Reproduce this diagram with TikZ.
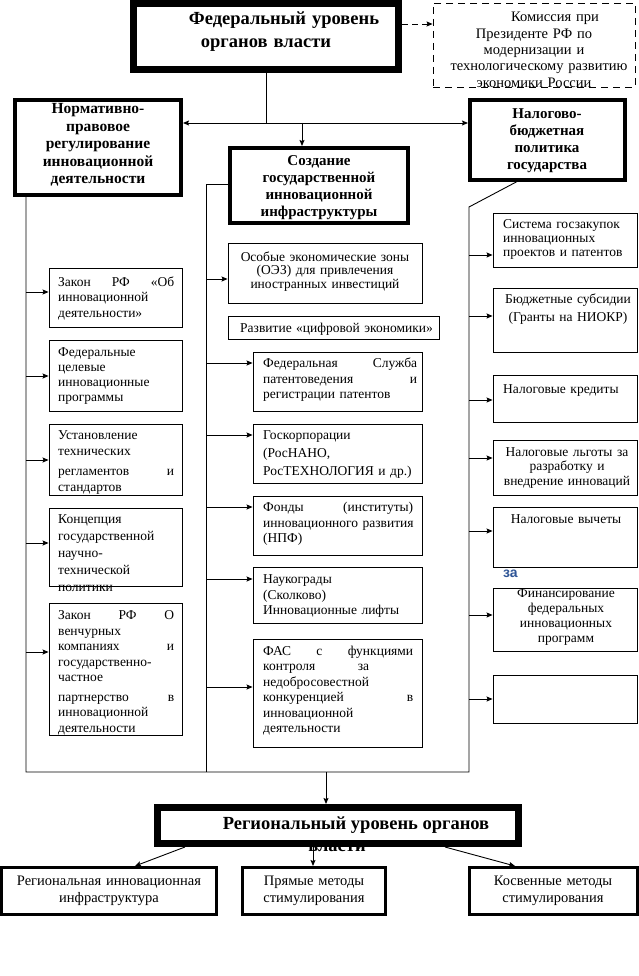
\documentclass[tikz,border=0pt]{standalone}
\usepackage{fontspec}
\setmainfont{Liberation Serif}
\newfontfamily\zasans{Liberation Sans}
\usetikzlibrary{arrows.meta,fit}
\definecolor{zablue}{RGB}{47,85,151}
\newcommand\fsz[2]{\fontsize{#1}{#2}\selectfont\lineskiplimit=-50pt\relax}
\newcommand\jl[2]{\leavevmode\hbox to #1{#2}}
\tikzset{
  plain/.style={line width=0.9pt},
  conn/.style={line width=0.9pt,-{Stealth[length=6pt,width=5pt,inset=1pt]}},
  dconn/.style={line width=0.9pt,dash pattern=on 6pt off 4pt,-{Stealth[length=6pt,width=5pt,inset=1pt]}},
  ibox/.style={draw,line width=0.9pt,inner sep=0pt},
  dbox/.style={draw,line width=0.9pt,dash pattern=on 7pt off 5pt,inner sep=0pt},
  hbox/.style={draw,line width=4pt,inner sep=0pt},
  bigbox/.style={draw,line width=7pt,inner sep=0pt},
  lbox/.style={draw,line width=3pt,inner sep=0pt},
  ltxt/.style={inner sep=0pt,anchor=base west,text width=300pt,align=left},
  ctxt/.style={inner sep=0pt,anchor=base,align=center},
}
\begin{document}
\begin{tikzpicture}[x=1pt,y=-1pt]
\fill[white] (0,0) rectangle (639,976);
\useasboundingbox (0,0) rectangle (639,976);

% ---------- federal level ----------
\node[bigbox,fit={(133.5,3.5)(398.5,69.5)}] (fed) {};
\node[ctxt,text width=262pt,font={\bfseries\fsz{18.5}{22.5}}] (fedt) at (266,25)
  {\hspace*{36pt}Федеральный уровень\\органов власти};

\node[dbox,fit={(433,3)(635,87)}] (kom) {};
\node[ctxt,text width=200pt,font={\fsz{14.5}{16.3}}] (komt) at (534,22)
  {\hspace*{42pt}Комиссия при\\Президенте РФ по\hspace*{30pt}\\модернизации и\hspace*{40pt}\\\hspace*{10pt}технологическому развитию\\экономики России};
\coordinate (fk) at (402,24);
\draw[dconn] (fk -| fed.east) -- (fk -| kom.west);

% ---------- three main directions ----------
\node[hbox,fit={(15,100)(181,195)}] (norm) {};
\node[ctxt,text width=164pt,font={\bfseries\fsz{15.5}{17.5}}] (normt) at (98,114)
  {Нормативно-\\правовое\\регулирование\\инновационной\\деятельности};

\node[hbox,fit={(230,148)(408,223)}] (soz) {};
\node[ctxt,text width=174pt,font={\bfseries\fsz{15}{16.7}}] (sozt) at (319,166)
  {Создание\\государственной\\инновационной\\инфраструктуры};

\node[hbox,fit={(470,100)(625,180)}] (nal) {};
\node[ctxt,text width=150pt,font={\bfseries\fsz{15}{16.7}}] (nalt) at (547,119)
  {Налогово-\\бюджетная\\политика\\государства};

\coordinate (jn) at (266,123);
\coordinate (jm) at (302,123);
\draw[plain] (fed.south -| jn) -- (jn);
\draw[conn] (jn) -- (jn -| norm.east);
\draw[conn] (jn) -- (jn -| nal.west);
\draw[conn] (jm) -- (jm |- soz.north);

% ---------- left column ----------
\node[ibox,fit={(49,268)(182,327)}] (l1) {};
\node[ltxt,font={\fsz{13.5}{15.5}}] (l1t) at (58,286)
  {\jl{116pt}{Закон\hfill РФ\hfill «Об}\\инновационной\\деятельности»};
\node[ibox,fit={(49,340)(182,411)}] (l2) {};
\node[ltxt,font={\fsz{13.5}{15.2}}] (l2t) at (58,356)
  {Федеральные\\целевые\\инновационные\\программы};
\node[ibox,fit={(49,424)(182,495)}] (l3) {};
\node[ltxt,font={\fsz{13.5}{16}}] (l3t) at (58,439.5)
  {Установление\\технических\\[4pt]\jl{116pt}{регламентов\hfill и}\\стандартов};
\node[ibox,fit={(49,508)(182,586)}] (l4) {};
\node[ltxt,font={\fsz{13.5}{17}}] (l4t) at (58,523.5)
  {Концепция\\государственной\\научно-\\технической\\политики};
\node[ibox,fit={(49,603)(182,735)}] (l5) {};
\node[ltxt,font={\fsz{13.5}{15.5}}] (l5t) at (58,619.5)
  {\jl{116pt}{Закон\hfill РФ\hfill О}\\венчурных\\\jl{116pt}{компаниях\hfill и}\\государственно-\\частное\\[4pt]\jl{116pt}{партнерство\hfill в}\\инновационной\\деятельности};

% ---------- middle column ----------
\node[ibox,fit={(228,243)(422,303)}] (m1) {};
\node[ctxt,text width=190pt,font={\fsz{13.5}{13.5}}] (m1t) at (325,261)
  {Особые экономические зоны\\(ОЭЗ) для привлечения\\иностранных инвестиций};
\node[ibox,fit={(228,316)(439,339)}] (m2) {};
\node[ltxt,font={\fsz{13.5}{15}}] (m2t) at (240,332) {Развитие «цифровой экономики»};
\node[ibox,fit={(253,352)(422,411)}] (m3) {};
\node[ltxt,font={\fsz{13.5}{15.5}}] (m3t) at (263,367.5)
  {\jl{154pt}{Федеральная\hfill Служба}\\\jl{154pt}{патентоведения\hfill и}\\регистрации патентов};
\node[ibox,fit={(253,424)(422,483)}] (m4) {};
\node[ltxt,font={\fsz{13.5}{18}}] (m4t) at (263,439.5)
  {Госкорпорации\\(РосНАНО,\\РосТЕХНОЛОГИЯ и др.)};
\node[ibox,fit={(253,496)(422,555)}] (m5) {};
\node[ltxt,font={\fsz{13.5}{15.5}}] (m5t) at (263,511.5)
  {\jl{150pt}{Фонды\hfill (институты)}\\инновационного развития\\(НПФ)};
\node[ibox,fit={(253,567)(422,623)}] (m6) {};
\node[ltxt,font={\fsz{13.5}{15.5}}] (m6t) at (263,583.5)
  {Наукограды\\(Сколково)\\Инновационные лифты};
\node[ibox,fit={(253,639)(422,747)}] (m7) {};
\node[ltxt,font={\fsz{13.5}{15.4}}] (m7t) at (263,655.5)
  {\jl{150pt}{ФАС\hfill с\hfill функциями}\\\jl{106pt}{контроля\hfill за}\\недобросовестной\\\jl{150pt}{конкуренцией\hfill в}\\инновационной\\деятельности};

% ---------- right column ----------
\node[ibox,fit={(493,213)(637,267)}] (r1) {};
\node[ltxt,font={\fsz{13.5}{14}}] (r1t) at (503,229)
  {Система госзакупок\\инновационных\\проектов и патентов};
\node[ibox,fit={(493,288)(637,352)}] (r2) {};
\node[ctxt,text width=140pt,font={\fsz{13.5}{18}}] (r2t) at (568,303)
  {Бюджетные субсидии\\(Гранты на НИОКР)};
\node[ibox,fit={(493,375)(637,422)}] (r3) {};
\node[ltxt,font={\fsz{13.5}{15}}] (r3t) at (503,393) {Налоговые кредиты};
\node[ibox,fit={(493,440)(637,495)}] (r4) {};
\node[ctxt,text width=140pt,font={\fsz{13.5}{14.5}}] (r4t) at (567,456)
  {Налоговые льготы за\\разработку и\\внедрение инноваций};
\node[ibox,fit={(493,507)(637,567)}] (r5) {};
\node[ctxt,text width=140pt,font={\fsz{13.5}{15}}] (r5t) at (566,523) {Налоговые вычеты};
\node[inner sep=0pt,anchor=base west,text=zablue,font={\zasans\bfseries\fsz{14}{16}}] (za) at (503,577) {за};
\node[ibox,fit={(493,588)(637,651)}] (r6) {};
\node[ctxt,text width=140pt,font={\fsz{13.5}{15}}] (r6t) at (566,597)
  {Финансирование\\федеральных\\инновационных\\программ};
\node[ibox,fit={(493,675)(637,723)}] (r7) {};

% ---------- trunks ----------
\coordinate (lt) at (26,195);
\coordinate (lb) at (26,772);
\coordinate (mt) at (206,184);
\coordinate (mb) at (206,772);
\coordinate (nd) at (520,180);
\coordinate (rt) at (469,207);
\coordinate (rb) at (469,772);
\draw[plain] (lt) -- (lb) -- (rb) -- (rt) -- (nd);
\draw[plain] (soz.west |- mt) -- (mt) -- (mb);

% left arrows
\foreach \yy/\tg in {292/l1,376/l2,460/l3,543/l4,652/l5}{
  \coordinate (s\tg) at (26,\yy);
  \draw[conn] (s\tg) -- (s\tg -| \tg.west);
}
% middle arrows
\foreach \yy/\tg in {279/m1,363/m3,435/m4,507/m5,579/m6,687/m7}{
  \coordinate (s\tg) at (206,\yy);
  \draw[conn] (s\tg) -- (s\tg -| \tg.west);
}
% right arrows
\foreach \yy/\tg in {255/r1,316/r2,400/r3,458/r4,531/r5,615/r6,699/r7}{
  \coordinate (s\tg) at (469,\yy);
  \draw[conn] (s\tg) -- (s\tg -| \tg.west);
}

% ---------- regional level ----------
\node[inner sep=0pt,anchor=base,font={\bfseries\fsz{18.5}{22}}] (vlasti) at (337,851) {власти};
\node[bigbox,fit={(157.5,807.5)(518.5,843.5)}] (reg) {};
\node[inner sep=0pt,anchor=base,font={\bfseries\fsz{18.5}{22}}] (regt) at (356,829) {Региональный уровень органов};
\coordinate (dn) at (326,772);
\draw[conn] (dn) -- (dn |- reg.north);

\node[lbox,fit={(1.5,867.5)(216.5,914.5)}] (ba) {};
\node[ctxt,text width=210pt,font={\fsz{14.5}{17}}] (bat) at (109,885)
  {Региональная инновационная\\инфраструктура};
\node[lbox,fit={(242.5,867.5)(385.5,914.5)}] (bb) {};
\node[ctxt,text width=140pt,font={\fsz{14.5}{17}}] (bbt) at (314,885)
  {Прямые методы\\стимулирования};
\node[lbox,fit={(469.5,867.5)(637.5,914.5)}] (bc) {};
\node[ctxt,text width=165pt,font={\fsz{14.5}{17}}] (bct) at (553,885)
  {Косвенные методы\\стимулирования};

\coordinate (sa) at (185,847);
\coordinate (ea) at (135,860);
\coordinate (sb) at (313,847);
\coordinate (sc) at (445,847);
\coordinate (ec) at (515,860);
\draw[conn] (sa) -- (ea |- ba.north);
\draw[conn] (sb) -- (sb |- bb.north);
\draw[conn] (sc) -- (ec |- bc.north);
\end{tikzpicture}
\end{document}
